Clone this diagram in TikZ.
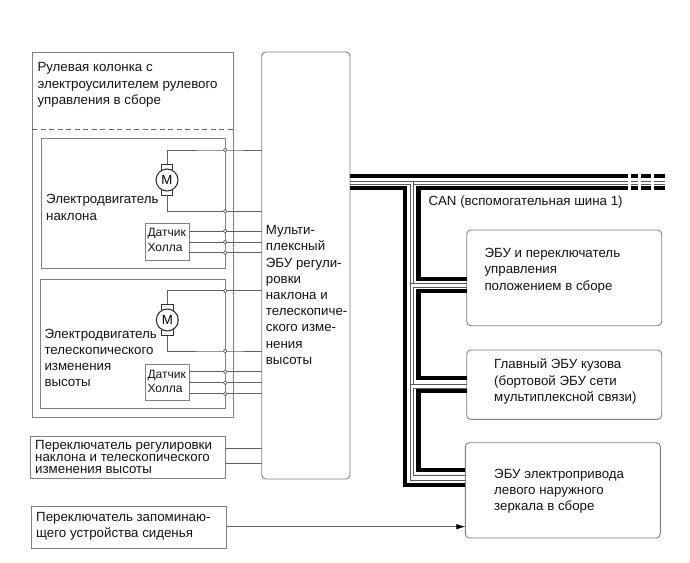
\documentclass[tikz,border=0pt]{standalone}
\usepackage{fontspec}
\setmainfont{Liberation Sans}
\usetikzlibrary{arrows.meta}
\definecolor{wirecol}{gray}{0.38}
\definecolor{boxcol}{gray}{0.5}
\tikzset{
  x=1pt,y=-1pt,
  sqbox/.style={draw=boxcol,line width=0.9pt,anchor=north west,inner sep=0pt,outer sep=0pt},
  rbox/.style={sqbox,rounded corners=4pt},
  label/.style={anchor=west,align=left,inner sep=0pt,text=black!92,font=\fontsize{13.3}{16.2}\selectfont},
  small/.style={label,font=\fontsize{12}{14.6}\selectfont},
  tight/.style={label,font=\fontsize{13.3}{12}\selectfont},
  wire/.style={draw=wirecol,line width=0.8pt},
  dot/.style={circle,draw=wirecol,fill=white,line width=0.7pt,inner sep=0pt,minimum size=3.8pt},
  brush/.style={draw=black!80,line width=0.9pt,anchor=center,inner sep=0pt,minimum width=11.5pt,minimum height=6pt},
  rotor/.style={circle,draw=black!85,fill=white,line width=1pt,inner sep=0pt,minimum size=22pt,font=\fontsize{13.3}{13.3}\selectfont},
  busbold/.style={draw=black,line width=4.3pt,miter limit=10},
  busthin/.style={draw=black!65,line width=0.9pt}
}
\begin{document}
\begin{tikzpicture}
\useasboundingbox (0,0) rectangle (690,562);
\fill[white] (0,0) rectangle (690,562);

% Steering column assembly
\node[sqbox,minimum width=201.4pt,minimum height=365pt] (column) at (32.3,52.7) {};
\coordinate (sepL) at (32.3,129);
\coordinate (sepR) at (233.7,129);
\draw[wirecol,line width=0.8pt,dash pattern=on 5pt off 3.5pt] (sepL) -- (sepR);
\node[label] (columnText) at (37.3,85) {Рулевая колонка с\\электроусилителем рулевого\\управления в сборе};

% Controller block and outer switches
\node[rbox,minimum width=88.3pt,minimum height=427pt] (ecu) at (261.7,52) {};
\node[label] (ecuText) at (265.7,295) {Мульти-\\плексный\\ЭБУ регули-\\ровки\\наклона и\\телескопиче-\\ского изме-\\нения\\высоты};
\node[sqbox,minimum width=195pt,minimum height=42.7pt] (tiltSw) at (30,436) {};
\node[tight] (tiltSwText) at (35,457) {Переключатель регулировки\\наклона и телескопического\\изменения высоты};
\node[sqbox,minimum width=195pt,minimum height=42pt] (memSw) at (31.7,506) {};
\node[label] (memSwText) at (36,526) {Переключатель запоминаю-\\щего устройства сиденья};

% Tilt motor group
\node[sqbox,minimum width=184pt,minimum height=129.3pt] (tiltBox) at (41.3,138.7) {};
\node[label] (tiltText) at (46,207.5) {Электродвигатель\\наклона};
\node[sqbox,minimum width=44.3pt,minimum height=36.7pt] (hallA) at (145,223.3) {};
\node[small] (hallAText) at (147.3,240) {Датчик\\Холла};
\node[brush] (tiltBrushT) at (167,167.3) {};
\node[brush] (tiltBrushB) at (167,192) {};
\node[rotor] (tiltMotor) at (167,180) {M};
\coordinate (tA) at (225.3,150);
\coordinate (tB) at (225.3,211.3);
\draw[wire] (tiltBrushT.north) |- (tA) -- (tA -| ecu.west);
\draw[wire] (tiltBrushB.south) |- (tB) -- (tB -| ecu.west);
\coordinate (hA1) at (225.3,231);
\coordinate (hA2) at (225.3,242);
\coordinate (hA3) at (225.3,252.7);
\foreach \c in {hA1,hA2,hA3}{\draw[wire] (\c -| hallA.east) -- (\c -| ecu.west);}
\foreach \c in {tA,tB,hA1,hA2,hA3}{\node[dot] (d\c) at (\c) {};}

% Telescopic motor group
\node[sqbox,minimum width=184.6pt,minimum height=129.4pt] (teleBox) at (40.7,279.3) {};
\node[label] (teleText) at (44.3,358) {Электродвигатель\\телескопического\\изменения\\высоты};
\node[sqbox,minimum width=44.3pt,minimum height=36.4pt] (hallB) at (145,364.3) {};
\node[small] (hallBText) at (147.3,381.3) {Датчик\\Холла};
\node[brush] (teleBrushT) at (167.3,307.8) {};
\node[brush] (teleBrushB) at (167.3,332.5) {};
\node[rotor] (teleMotor) at (167.3,320) {M};
\coordinate (mA) at (225.3,290.7);
\coordinate (mB) at (225.3,351);
\draw[wire] (teleBrushT.north) |- (mA) -- (mA -| ecu.west);
\draw[wire] (teleBrushB.south) |- (mB) -- (mB -| ecu.west);
\coordinate (hB1) at (225.3,371.7);
\coordinate (hB2) at (225.3,382.7);
\coordinate (hB3) at (225.3,393.7);
\foreach \c in {hB1,hB2,hB3}{\draw[wire] (\c -| hallB.east) -- (\c -| ecu.west);}
\foreach \c in {mA,mB,hB1,hB2,hB3}{\node[dot] (d\c) at (\c) {};}

% Switch wiring
\coordinate (sA) at (225,448.7);
\coordinate (sB) at (225,463.3);
\draw[wire] (sA) -- (sA -| ecu.west);
\draw[wire] (sB) -- (sB -| ecu.west);

% Network units
\node[rbox,minimum width=195pt,minimum height=95.7pt] (unitA) at (466.7,230) {};
\node[label] (unitAText) at (484.3,270.7) {ЭБУ и переключатель\\управления\\положением в сборе};
\node[rbox,minimum width=195pt,minimum height=69.3pt] (unitB) at (466.7,350) {};
\node[label] (unitBText) at (494,381.5) {Главный ЭБУ кузова\\(бортовой ЭБУ сети\\мультиплексной связи)};
\node[rbox,minimum width=195pt,minimum height=95.3pt] (unitC) at (465.3,442.7) {};
\node[label] (unitCText) at (494,491) {ЭБУ электропривода\\левого наружного\\зеркала в сборе};
\node[label] (canText) at (428.3,201.7) {CAN (вспомогательная шина 1)};

% Memory switch signal
\coordinate (memY) at (226.7,526.7);
\draw[wire,-{Latex[length=9pt,width=5.5pt,black]}] (memSw.east |- memY) -- (memY -| unitC.west);

% CAN bus: heavy conductors
\coordinate (busEnd) at (628,176);
\coordinate (busEndB) at (628,188);
\coordinate (outerX) at (405,485);
\coordinate (innerX) at (418.5,188);
\draw[busbold] (busEnd -| ecu.east) -- (busEnd);
\draw[busbold] (busEndB -| ecu.east) -- (outerX |- busEndB) -- (outerX) -- (outerX -| unitC.west);
\draw[busbold] (busEndB) -- (innerX) |- (418.5,279 -| unitA.west);
\draw[busbold] (unitA.west |- 0,291) -- (innerX |- 0,291) -- (innerX |- 0,378) -- (unitB.west |- 0,378);
\draw[busbold] (unitB.west |- 0,391) -- (innerX |- 0,391) -- (innerX |- 0,470) -- (unitC.west |- 0,470);

% CAN bus: light conductors
\coordinate (thinEnd) at (628,181.3);
\coordinate (thinEndB) at (628,184.6);
\coordinate (leftV) at (410,480);
\coordinate (rightV) at (413.5,181.3);
\draw[busthin] (thinEnd -| ecu.east) -- (thinEnd);
\draw[busthin] (thinEndB -| ecu.east) -- (leftV |- thinEndB) -- (leftV) -- (leftV -| unitC.west);
\draw[busthin] (thinEndB) -- (rightV |- thinEndB);
\draw[busthin] (leftV |- 0,283.5) -- (unitA.west |- 0,283.5);
\draw[busthin] (rightV) -- (rightV |- 0,283.5);
\draw[busthin] (unitA.west |- 0,287) -- (rightV |- 0,287) -- (rightV |- 0,384) -- (unitB.west |- 0,384);
\draw[busthin] (leftV |- 0,384) -- (rightV |- 0,384);
\draw[busthin] (unitB.west |- 0,388) -- (rightV |- 0,388) -- (rightV |- 0,475.5) -- (unitC.west |- 0,475.5);

% Broken-off end of the bus
\foreach \a/\b in {631/638,641/651,654/665}{
  \draw[black,line width=4.3pt] (\a,176) -- (\b,176);
  \draw[black,line width=4.3pt] (\a,188) -- (\b,188);
  \draw[black!65,line width=0.9pt] (\a,181.3) -- (\b,181.3);
  \draw[black!65,line width=0.9pt] (\a,184.6) -- (\b,184.6);
}
\end{tikzpicture}
\end{document}
